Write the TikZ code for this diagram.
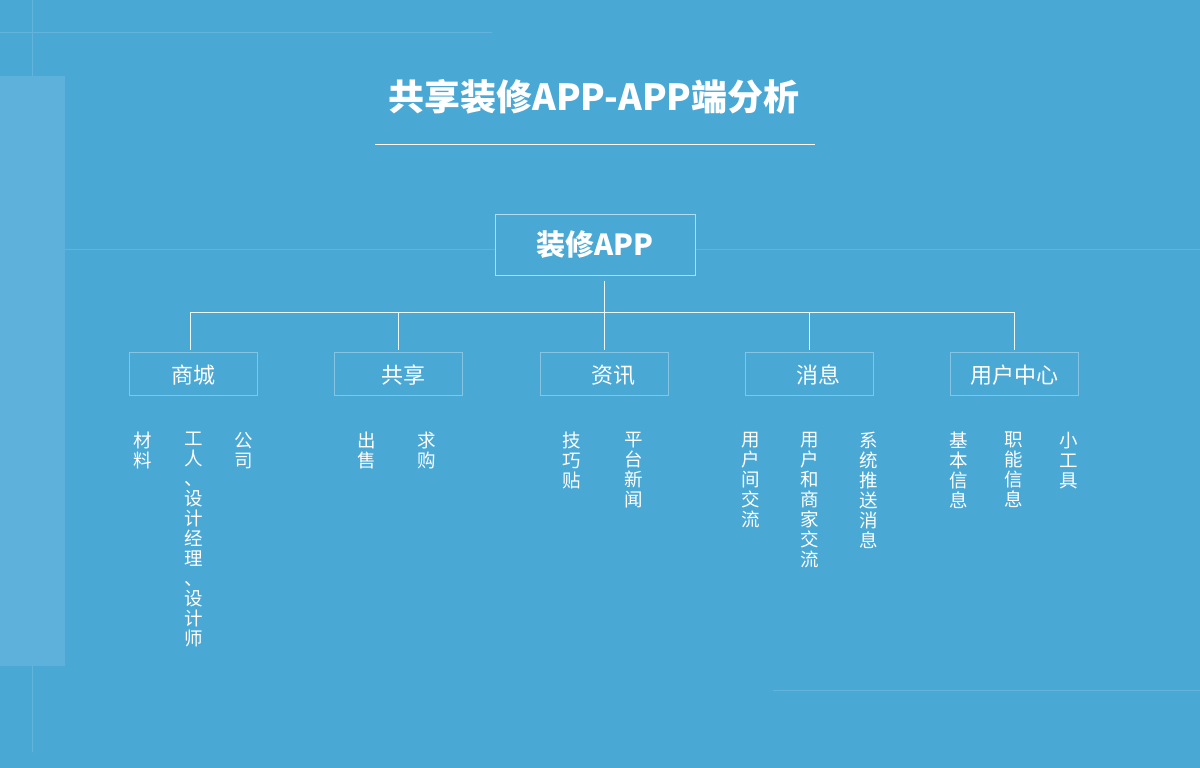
\documentclass[tikz,border=0pt]{standalone}
\usepackage{fontspec}
\setmainfont{Noto Sans CJK SC}
\usetikzlibrary{calc}
\definecolor{bgc}{HTML}{4AA8D5}
\definecolor{panelc}{HTML}{5DB1DA}
\definecolor{gridc}{HTML}{62B4DC}
\definecolor{linec}{HTML}{EAF6FC}
\definecolor{mainborder}{HTML}{B4DCF0}
\definecolor{subborder}{HTML}{86C4E4}
\tikzset{
  gridline/.style={draw=gridc, line width=0.8pt},
  conn/.style={draw=linec, line width=1pt},
  mainbox/.style={draw=mainborder, fill=bgc, line width=1pt, minimum width=200pt, minimum height=61pt, inner sep=0pt},
  subbox/.style={draw=subborder, line width=0.9pt, minimum width=128pt, minimum height=43pt, inner sep=0pt},
  sublabel/.style={text=white, inner sep=0pt, font=\fontsize{22}{24}\selectfont},
  vtext/.style={anchor=north, inner sep=0pt, align=center, text=white, font=\fontsize{18.5}{20}\selectfont},
}
\begin{document}
\begin{tikzpicture}[x=1pt,y=-1pt]
\useasboundingbox (0,0) rectangle (1200,768);
\fill[bgc] (0,0) rectangle (1200,768);
% background decoration
\fill[panelc] (0,76) rectangle (65,666);
\draw[gridline] (0,32) -- (492,32);
\draw[gridline] (32,0) -- (32,76);
\draw[gridline] (32,666) -- (32,752);
\draw[gridline] (65,249) -- (1200,249);
\draw[gridline] (773,690) -- (1200,690);
% title
\node[text=white, font=\bfseries\fontsize{36}{40}\selectfont, inner sep=0pt] (title) at (594,97) {共享装修APP-APP端分析};
\coordinate (ul1) at (375,144);
\coordinate (ul2) at (815,144);
\draw[draw=white, line width=0.9pt] (ul1) -- (ul2);
% main box
\node[mainbox] (app) at (595.5,244.5) {};
\node[text=white, font=\bfseries\fontsize{29}{32}\selectfont, inner sep=0pt] (applabel) at (595,245) {装修APP};
% sub boxes
\node[subbox] (s1) at (193.5,373.5) {};
\node[subbox] (s2) at (398,373.5) {};
\node[subbox] (s3) at (604.5,373.5) {};
\node[subbox] (s4) at (809.5,373.5) {};
\node[subbox] (s5) at (1014.5,373.5) {};
\node[sublabel] (l1) at (193,375) {商城};
\node[sublabel] (l2) at (403,375) {共享};
\node[sublabel] (l3) at (613,375) {资讯};
\node[sublabel] (l4) at (818,375) {消息};
\node[sublabel] (l5) at (1014,375) {用户中心};
% connectors
\coordinate (b1) at (190,312);
\coordinate (b2) at (398,312);
\coordinate (b3) at (604,312);
\coordinate (b4) at (809,312);
\coordinate (b5) at (1014.5,312);
\coordinate (top) at (604,281);
\draw[conn] (b1) -- (b5);
\draw[conn] (top) -- ($(b3 |- s3.north)+(0,-2)$);
\draw[conn] (b1) -- ($(b1 |- s1.north)+(0,-2)$);
\draw[conn] (b2) -- ($(b2 |- s2.north)+(0,-2)$);
\draw[conn] (b4) -- ($(b4 |- s4.north)+(0,-2)$);
\draw[conn] (b5) -- ($(b5 |- s5.north)+(0,-2)$);
% vertical items
\node[vtext] (t1) at (142.5,432) {材\\料};
\node[vtext] (t2) at (194,432) {工\\人\\、\\设\\计\\经\\理\\、\\设\\计\\师};
\node[vtext] (t3) at (243.5,432) {公\\司};
\node[vtext] (t4) at (366.5,432) {出\\售};
\node[vtext] (t5) at (426.5,432) {求\\购};
\node[vtext] (t6) at (572,432) {技\\巧\\贴};
\node[vtext] (t7) at (634,432) {平\\台\\新\\闻};
\node[vtext] (t8) at (751,432) {用\\户\\间\\交\\流};
\node[vtext] (t9) at (810,432) {用\\户\\和\\商\\家\\交\\流};
\node[vtext] (t10) at (869,432) {系\\统\\推\\送\\消\\息};
\node[vtext] (t11) at (959,432) {基\\本\\信\\息};
\node[vtext] (t12) at (1014,432) {职\\能\\信\\息};
\node[vtext] (t13) at (1069,432) {小\\工\\具};
\end{tikzpicture}
\end{document}
